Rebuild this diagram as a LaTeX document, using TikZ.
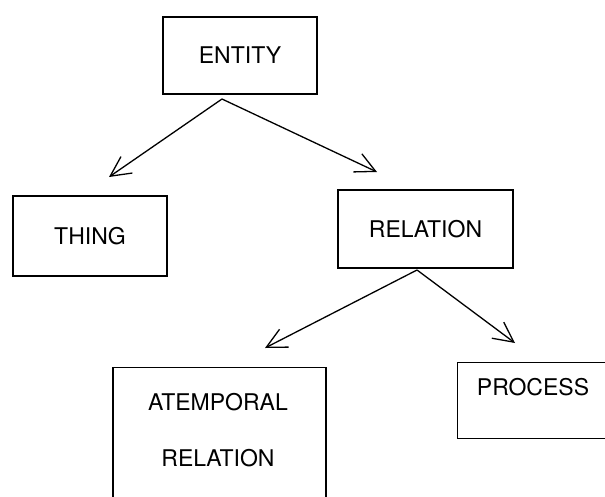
\documentclass[tikz,border=0pt]{standalone}
\usepackage{fontspec}
\setmainfont{TeX Gyre Heros}
\usetikzlibrary{arrows.meta}
\begin{document}
\begin{tikzpicture}[x=1pt,y=-1pt,
  box/.style={draw, line width=1.4pt, inner sep=0pt},
  lbl/.style={font=\fontsize{23}{27}\selectfont, inner sep=0pt},
  link/.style={line width=1.3pt,
    -{Straight Barb[length=20pt,width=20pt,line width=1.3pt]}}]
  \clip (0,0) rectangle (605,496);

  % boxes
  \node[box, lbl, minimum width=154pt, minimum height=77pt] (entity) at (240,55.5) {ENTITY};
  \node[box, lbl, minimum width=154pt, minimum height=80pt] (thing) at (90,236) {THING};
  \node[box, lbl, minimum width=175pt, minimum height=78pt] (relation) at (425.5,229) {RELATION};

  % lower boxes run past the edge of the sheet
  \node[box, minimum width=213pt, minimum height=180pt, anchor=north] (atemporal) at (219.5,367) {};
  \node[lbl, align=center] (atemporaltext) at (218,430) {ATEMPORAL\\[29pt]RELATION};
  \node[box, minimum width=180pt, minimum height=76pt, anchor=north west] (process) at (457,362) {};
  \node[lbl] (processtext) at (533,387) {PROCESS};

  % arrow roots and tips
  \coordinate (entityfoot) at (222,99);
  \coordinate (thingtip) at (109,177);
  \coordinate (relationtip) at (377,172);
  \coordinate (relationfoot) at (417,270);
  \coordinate (atemporaltip) at (265,348);
  \coordinate (processtip) at (515,343);

  \draw[link] (entityfoot) -- (thingtip);
  \draw[link] (entityfoot) -- (relationtip);
  \draw[link] (relationfoot) -- (atemporaltip);
  \draw[link] (relationfoot) -- (processtip);
\end{tikzpicture}
\end{document}
